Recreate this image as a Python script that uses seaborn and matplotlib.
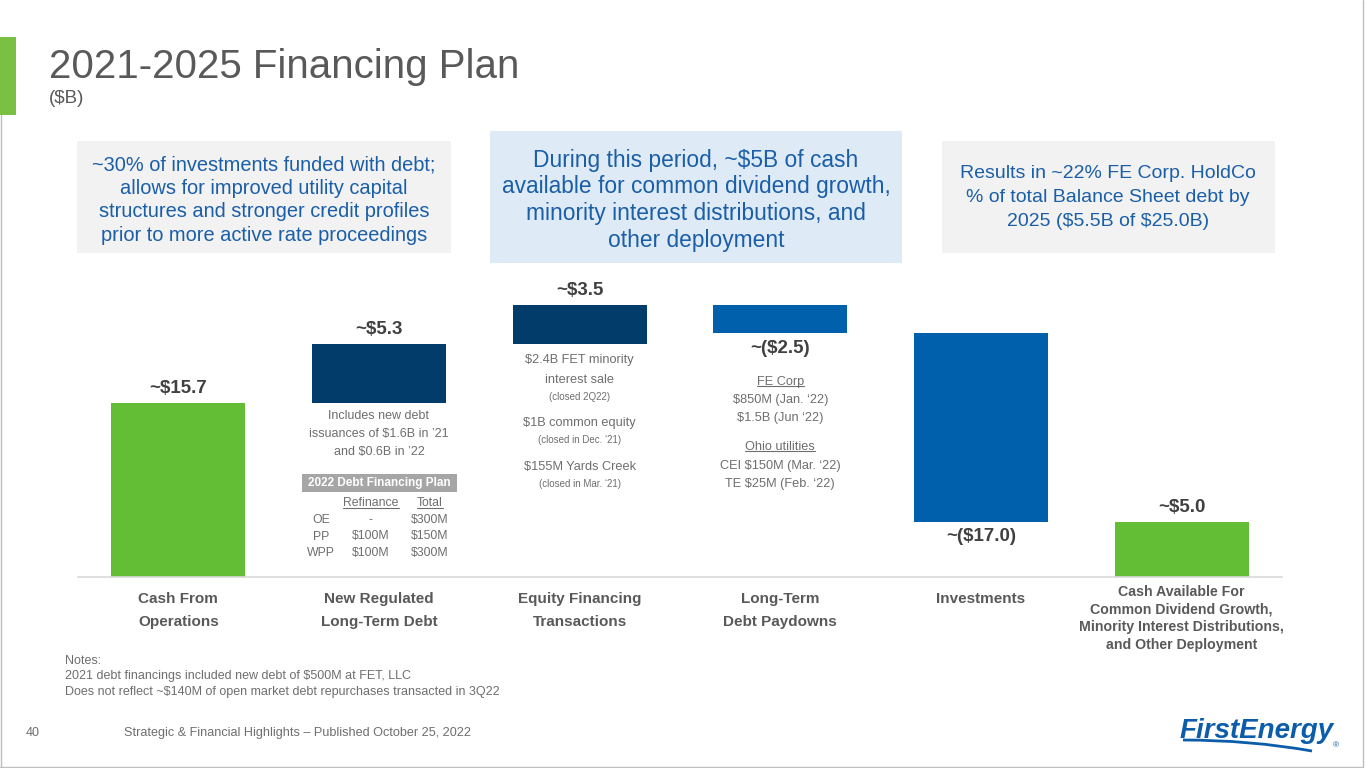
import pandas as pd
import matplotlib
matplotlib.use("Agg")
from matplotlib import pyplot as plt
from matplotlib import patches, lines, transforms
from matplotlib.path import Path
import seaborn as sns

W, H = 1365, 768

# chart data
categories = ["Cash From\nOperations", "New Regulated\nLong-Term Debt", "Equity Financing\nTransactions",
              "Long-Term\nDebt Paydowns", "Investments",
              "Cash Available For\nCommon Dividend Growth,\nMinority Interest Distributions,\nand Other Deployment"]
values = [15.7, 5.3, 3.5, -2.5, -17.0, 5.0]
is_total = [True, False, False, False, False, True]
value_labels = ["~$15.7", "~$5.3", "~$3.5", "~($2.5)", "~($17.0)", "~$5.0"]
bar_colors = ["#63BE35", "#023C6B", "#023C6B", "#0060AC", "#0060AC", "#63BE35"]

# callout texts
box_left_text = ["~30% of investments funded with debt;", "allows for improved utility capital",
                 "structures and stronger credit profiles", "prior to more active rate proceedings"]
box_mid_text = ["During this period, ~$5B of cash", "available for common dividend growth,",
                "minority interest distributions, and", "other deployment"]
box_right_text = ["Results in ~22% FE Corp. HoldCo", "% of total Balance Sheet debt by",
                  "2025 ($5.5B of $25.0B)"]

debt_note = ["Includes new debt", "issuances of $1.6B in \u201921", "and $0.6B in \u201922"]
plan_title = "2022 Debt Financing Plan"
plan_cols = ["Refinance", "Total"]
plan_rows = ["OE", "PP", "WPP"]
plan_refinance = ["-", "$100M", "$100M"]
plan_total = ["$300M", "$150M", "$300M"]

equity_note = ["$2.4B FET minority", "interest sale", "(closed 2Q22)", "$1B common equity",
               "(closed in Dec. \u201821)", "$155M Yards Creek", "(closed in Mar. \u201821)"]
paydown_note = ["FE Corp", "$850M (Jan. \u201822)", "$1.5B (Jun \u201822)", "Ohio utilities",
                "CEI $150M (Mar. \u201822)", "TE $25M (Feb. \u201822)"]

notes = ["Notes:", "2021 debt financings included new debt of $500M at FET, LLC",
         "Does not reflect ~$140M of open market debt repurchases transacted in 3Q22"]
footer = "Strategic & Financial Highlights \u2013 Published October 25, 2022"

# waterfall geometry
bottoms, heights = [], []
running = 0.0
for v, tot in zip(values, is_total):
    if tot:
        bottoms.append(0.0)
        heights.append(v)
        running = v
    else:
        bottoms.append(min(running, running + v))
        heights.append(abs(v))
        running += v

df = pd.DataFrame({"category": categories, "height": heights})

sns.set_style("white")
plt.rcParams["font.family"] = ["Liberation Sans", "DejaVu Sans"]
GRAY = "#6E6E6E"
BLUE_TXT = "#1B5EA8"

fig = plt.figure(figsize=(W / 100, H / 100), dpi=100)
ax = fig.add_axes([78 / W, 1 - 577 / H, (1282 - 78) / W, 333 / H])
ax.patch.set_visible(False)
sns.barplot(data=df, x="category", y="height", order=categories, bottom=bottoms,
            width=0.668, errorbar=None, color=bar_colors[0], saturation=1, ax=ax)
for patch, c in zip(ax.patches, bar_colors):
    patch.set_facecolor(c)
    patch.set_edgecolor("none")
ax.set_ylim(0, 30)
ax.set_xlim(-0.5, len(categories) - 0.5)
sns.despine(ax=ax, left=True)
ax.spines["bottom"].set_color("#D9D9D9")
ax.spines["bottom"].set_linewidth(1.2)
ax.set_yticks([])
ax.set_xticks(range(len(categories)))
ax.set_xticklabels([])
ax.tick_params(axis="x", length=0)
ax.set_xlabel("")
ax.set_ylabel("")

# category labels
for i, lab in enumerate(categories):
    last = i == len(categories) - 1
    ax.annotate(lab, xy=(i, 0), xycoords=("data", "axes fraction"),
                xytext=(0, -6 if last else -11), textcoords="offset points",
                ha="center", va="top", color="#595959", fontweight="bold",
                fontsize=10.2 if last else 11, linespacing=1.32 if last else 1.75)

# value labels
for i, (lab, v) in enumerate(zip(value_labels, values)):
    if v >= 0:
        xy, off, va = (i, bottoms[i] + heights[i]), 4, "bottom"
    else:
        xy, off, va = (i, bottoms[i]), -5, "top"
    ax.annotate(lab, xy=xy, xytext=(0, off), textcoords="offset points", ha="center", va=va,
                fontsize=13.5, fontweight="bold", color="#404040")

bar_x = transforms.blended_transform_factory(ax.transData, fig.transFigure)


def fy(py):
    return 1 - py / H


def ftext(px, py, s, **kw):
    return fig.text(px / W, fy(py), s, parse_math=False, **kw)


def btext(i, py, s, **kw):
    kw.setdefault("ha", "center")
    kw.setdefault("va", "center")
    return ax.text(i, fy(py), s, transform=bar_x, parse_math=False, **kw)


def frect(x0, y0, x1, y1, color):
    fig.add_artist(patches.Rectangle((x0 / W, fy(y1)), (x1 - x0) / W, (y1 - y0) / H,
                                     transform=fig.transFigure, facecolor=color,
                                     edgecolor="none", zorder=0))


# header
frect(0, 37, 16, 115, "#7AC143")
ftext(49, 78, "2021-2025 Financing Plan", fontsize=29, color="#595959", va="baseline")
ftext(49, 103, "($B)", fontsize=13.5, color="#595959", va="baseline")

# callout boxes
frect(77, 141, 451, 253, "#F2F2F2")
frect(490, 131, 902, 263, "#DEEBF7")
frect(942, 141, 1275, 253, "#F2F2F2")
for k, s in enumerate(box_left_text):
    ftext(264, 165 + 23.4 * k, s, fontsize=14.4, color=BLUE_TXT, ha="center", va="center")
for k, s in enumerate(box_mid_text):
    ftext(696, 160 + 26.7 * k, s, fontsize=16.4, color=BLUE_TXT, ha="center", va="center")
for k, s in enumerate(box_right_text):
    ftext(1108, 174 + 24 * k, s, fontsize=14, color=BLUE_TXT, ha="center", va="center")

underlined = []
txt = dict(color=GRAY)

# debt notes
for k, s in enumerate(debt_note):
    btext(1, 416 + 18 * k, s, fontsize=9, **txt)
frect(302, 474, 457, 492, "#A6A6A6")
ftext(379.5, 483, plan_title, fontsize=8.5, fontweight="bold", color="white",
      ha="center", va="center")
for px, s in zip([371, 430], plan_cols):
    underlined.append(ftext(px, 503, s, fontsize=8.8, ha="center", va="center", **txt))
for k in range(len(plan_rows)):
    y = 520 + 16.5 * k
    ftext(321, y, plan_rows[k], fontsize=8.8, ha="center", va="center", **txt)
    ftext(371, y, plan_refinance[k], fontsize=8.8, ha="center", va="center", **txt)
    ftext(430, y, plan_total[k], fontsize=8.8, ha="center", va="center", **txt)

# equity notes
eq_y = [360, 380, 397, 423, 440, 467, 484]
eq_size = [9.2, 9.2, 7, 9.2, 7, 9.2, 7]
for s, y, fs in zip(equity_note, eq_y, eq_size):
    btext(2, y, s, fontsize=fs, **txt)

# paydown notes
pd_y = [382, 400, 418, 447, 466, 484]
for k, (s, y) in enumerate(zip(paydown_note, pd_y)):
    t = btext(3, y, s, fontsize=9.2, **txt)
    if k in (0, 3):
        underlined.append(t)

# notes & footer
for k, s in enumerate(notes):
    ftext(65, 661 + 15.5 * k, s, fontsize=9, va="center", **txt)
ftext(26, 733, "40", fontsize=9, va="center", **txt)
ftext(124, 733, footer, fontsize=9.1, va="center", **txt)

# logo
ftext(1180, 738, "FirstEnergy", fontsize=20, fontweight="bold", fontstyle="italic",
      color="#0B5CAB", va="baseline")
ftext(1333, 746, "\u00ae", fontsize=6, color="#0B5CAB", va="center")
swoosh = Path([(1183 / W, fy(740)), (1250 / W, fy(740)), (1312 / W, fy(751))],
              [Path.MOVETO, Path.CURVE3, Path.CURVE3])
fig.add_artist(patches.PathPatch(swoosh, transform=fig.transFigure, facecolor="none",
                                 edgecolor="#0B5CAB", lw=2))

# slide frame
for xs, ys in [([0.5, 0.5], [115, 767]), ([1362.5, 1362.5], [0, 767]), ([0, 1363], [766.5, 766.5])]:
    fig.add_artist(lines.Line2D([x / W for x in xs], [fy(y) for y in ys],
                                transform=fig.transFigure, color="#BFBFBF", lw=1))

fig.canvas.draw()
for t in underlined:
    bb = t.get_window_extent()
    off = 0.12 * t.get_fontsize() * 100 / 72
    fig.add_artist(lines.Line2D([bb.x0, bb.x1], [bb.y0 + off, bb.y0 + off],
                                transform=transforms.IdentityTransform(), color=GRAY, lw=0.8))

fig.savefig("out.png", dpi=100)
